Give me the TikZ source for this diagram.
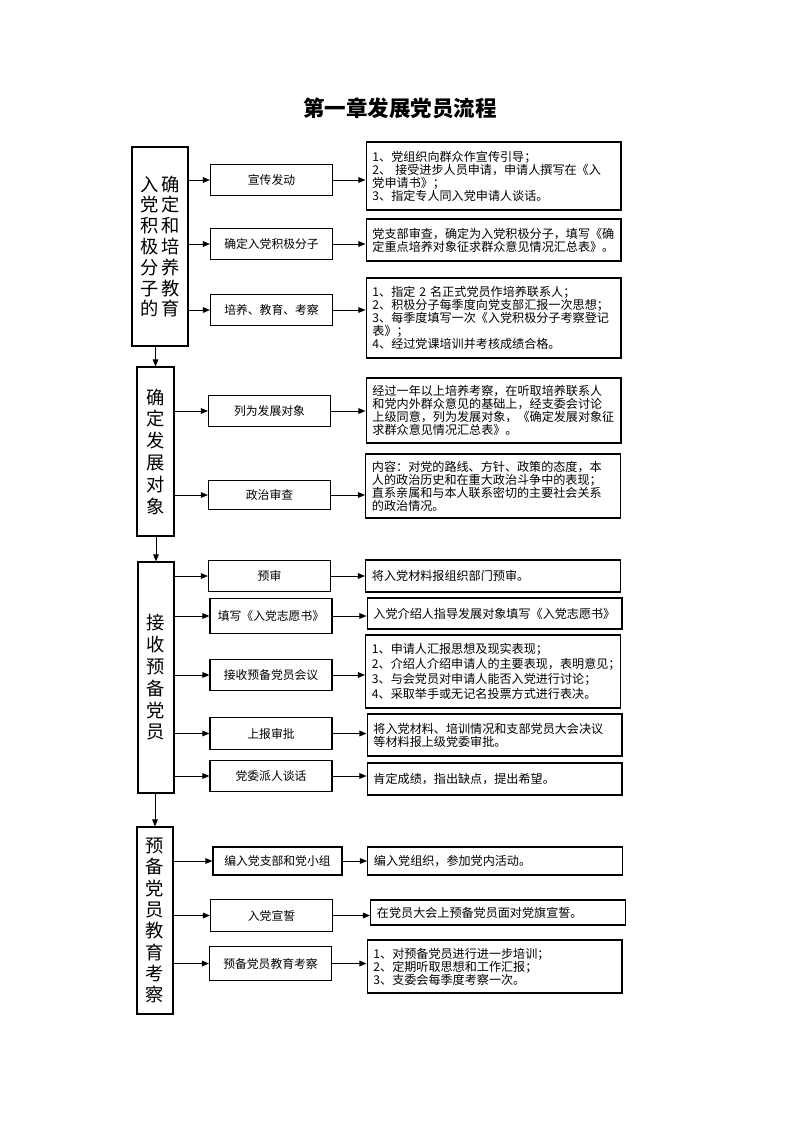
\documentclass[tikz,border=0pt]{standalone}
\usepackage{fontspec}
\setmainfont{Noto Sans CJK SC}
\usepackage{tikz}
\usetikzlibrary{arrows.meta}
\tikzset{
  titletext/.style={font=\fontsize{15.3}{18}\selectfont\bfseries},
  stagebox/.style={rectangle, draw, line width=0.8pt, align=center, inner sep=0pt,
    font=\fontsize{13}{15.5}\selectfont},
  stepbox/.style={rectangle, draw, line width=0.8pt, minimum width=3.05cm,
    minimum height=0.78cm, align=center, inner sep=0pt, font=\fontsize{8.4}{10}\selectfont},
  notebox/.style={rectangle, draw, line width=0.8pt, text width=6.05cm, inner xsep=0.16cm,
    inner ysep=2pt, align=left, font=\fontsize{8.6}{9.3}\selectfont},
  arrow/.style={-{Triangle[length=5pt, width=4pt]}, line width=0.7pt},
}

\begin{document}
\begin{tikzpicture}[x=0.025cm, y=-0.025cm]
  \useasboundingbox (0,0) rectangle (800,1132);
  \node[titletext] (title) at (400,108) {第一章发展党员流程};

  % stages
  \node[stagebox, minimum width=1.4cm, minimum height=4.975cm, font=\fontsize{13}{14.8}\selectfont]
    (lb1) at (160,246.5) {入\,确\\党\,定\\积\,和\\极\,培\\分\,养\\子\,教\\的\,育};
  \node[stagebox, minimum width=0.925cm, minimum height=4.225cm]
    (lb2) at (155.5,451.5) {确\\定\\发\\展\\对\\象};
  \node[stagebox, minimum width=0.9cm, minimum height=5.775cm]
    (lb3) at (156,677.5) {接\\收\\预\\备\\党\\员};
  \node[stagebox, minimum width=0.9cm, minimum height=4.675cm, font=\fontsize{13}{15.2}\selectfont]
    (lb4) at (155,920.5) {预\\备\\党\\员\\教\\育\\考\\察};

  % steps
  \node[stepbox] (m1) at (271.5,180) {宣传发动};
  \node[stepbox] (m2) at (271.5,244) {确定入党积极分子};
  \node[stepbox] (m3) at (271.5,310) {培养、教育、考察};
  \node[stepbox] (m4) at (269.5,411) {列为发展对象};
  \node[stepbox, minimum height=0.72cm] (m5) at (269.5,495) {政治审查};
  \node[stepbox] (m6) at (269.5,576) {预审};
  \node[stepbox, minimum height=0.88cm] (m7) at (271,616) {填写《入党志愿书》};
  \node[stepbox] (m8) at (271,675) {接收预备党员会议};
  \node[stepbox] (m9) at (271,733.5) {上报审批};
  \node[stepbox] (m10) at (271,776) {党委派人谈话};
  \node[stepbox, minimum width=3.225cm, minimum height=0.7cm] (m11) at (277.5,861) {编入党支部和党小组};
  \node[stepbox] (m12) at (271.5,915.5) {入党宣誓};
  \node[stepbox, minimum height=0.83cm] (m13) at (270.5,963.5) {预备党员教育考察};

  % notes
  \node[notebox, minimum height=1.7cm] (r1) at (493.5,176)
    {1、党组织向群众作宣传引导；\\2、 接受进步人员申请，申请人撰写在《入\\党申请书》；\\3、指定专人同入党申请人谈话。};
  \node[notebox, minimum height=1.05cm] (r2) at (493.5,240)
    {党支部审查，确定为入党积极分子，填写《确\\定重点培养对象征求群众意见情况汇总表》。};
  \node[notebox, minimum height=2cm] (r3) at (493.5,318)
    {1、指定 2 名正式党员作培养联系人；\\2、积极分子每季度向党支部汇报一次思想；\\3、每季度填写一次《入党积极分子考察登记\\表》；\\4、经过党课培训并考核成绩合格。};
  \node[notebox, minimum height=1.625cm] (r4) at (493.5,410.5)
    {经过一年以上培养考察，在听取培养联系人\\和党内外群众意见的基础上，经支委会讨论\\上级同意，列为发展对象，《确定发展对象征\\求群众意见情况汇总表》。};
  \node[notebox, minimum height=1.6cm] (r5) at (493,486)
    {内容：对党的路线、方针、政策的态度，本\\人的政治历史和在重大政治斗争中的表现；\\直系亲属和与本人联系密切的主要社会关系\\的政治情况。};
  \node[notebox, minimum height=0.8cm] (r6) at (493,576) {将入党材料报组织部门预审。};
  \node[notebox, minimum height=0.775cm] (r7) at (494.5,613.5) {入党介绍人指导发展对象填写《入党志愿书》};
  \node[notebox, minimum height=1.825cm, font=\fontsize{8.6}{10.6}\selectfont] (r8) at (493,671.5)
    {1、申请人汇报思想及现实表现；\\2、介绍人介绍申请人的主要表现，表明意见；\\3、与会党员对申请人能否入党进行讨论；\\4、采取举手或无记名投票方式进行表决。};
  \node[notebox, minimum height=1.05cm] (r9) at (494.5,735)
    {将入党材料、培训情况和支部党员大会决议\\等材料报上级党委审批。};
  \node[notebox, minimum height=0.8cm] (r10) at (494.5,779) {肯定成绩，指出缺点，提出希望。};
  \node[notebox, minimum height=0.7cm] (r11) at (495,861) {编入党组织，参加党内活动。};
  \node[notebox, minimum height=0.625cm] (r12) at (498,912.5) {在党员大会上预备党员面对党旗宣誓。};
  \node[notebox, minimum height=1.325cm] (r13) at (494.5,966.5)
    {1、对预备党员进行进一步培训；\\2、定期听取思想和工作汇报；\\3、支委会每季度考察一次。};

  \draw[arrow] (lb2.north |- lb1.south) -- (lb2.north);
  \draw[arrow] (lb3.north |- lb2.south) -- (lb3.north);
  \draw[arrow] (lb4.north |- lb3.south) -- (lb4.north);

  \foreach \m in {m1,m2,m3} \draw[arrow] (lb1.east |- \m) -- (\m.west);
  \foreach \m in {m4,m5} \draw[arrow] (lb2.east |- \m) -- (\m.west);
  \foreach \m in {m6,m7,m8,m9,m10} \draw[arrow] (lb3.east |- \m) -- (\m.west);
  \foreach \m in {m11,m12,m13} \draw[arrow] (lb4.east |- \m) -- (\m.west);

  \foreach \m/\r in {m1/r1,m2/r2,m3/r3,m4/r4,m5/r5,m6/r6,m7/r7,m8/r8,m9/r9,m10/r10,m11/r11,m12/r12,m13/r13}
    \draw[arrow] (\m.east) -- (\m.east -| \r.west);
\end{tikzpicture}
\end{document}
